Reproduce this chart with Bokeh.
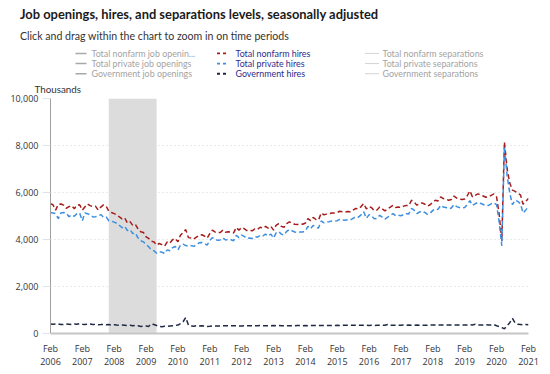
import pandas as pd
from bokeh.plotting import figure
from bokeh.models import (Range1d, FixedTicker, DatetimeTickFormatter,
                          NumeralTickFormatter, BoxAnnotation, Title)
from bokeh.layouts import column
from bokeh.core.properties import value
from bokeh.embed import file_html
from bokeh.resources import INLINE

FONT = "Open Sans"
HFONT = "Lato"

title_text = "Job openings, hires, and separations levels, seasonally adjusted"
subtitle_text = "Click and drag within the chart to zoom in on time periods"
y_unit_label = "Thousands"

openings_labels = ["Total nonfarm job openin...", "Total private job openings",
                   "Government job openings"]
hires_labels = ["Total nonfarm hires", "Total private hires", "Government hires"]
separations_labels = ["Total nonfarm separations", "Total private separations",
                      "Government separations"]

first_month = "2006-02-01"
tick_years = list(range(2006, 2022))
y_ticks = [0, 2000, 4000, 6000, 8000, 10000]
recession_start = "2007-12-01"
recession_end = "2009-06-01"

# monthly levels, thousands, Feb 2006 .. Feb 2021
nonfarm_hires = [
    5520, 5480, 5250, 5490, 5510, 5460, 5330, 5400, 5440, 5310, 5460,
    5480, 5250, 5380, 5510, 5440, 5400, 5420, 5250, 5380, 5470, 5420, 5200,
    5150, 5100, 5050, 4960, 4880, 4920, 4700, 4760, 4600, 4640, 4450, 4330,
    4300, 4110, 4050, 3930, 3900, 3760, 3830, 3780, 3720, 3900, 3850, 3990,
    4040, 3900, 4180, 4300, 4420, 4080, 4060, 4020, 4100, 4180, 4200, 4150,
    4060, 4250, 4400, 4320, 4290, 4300, 4400, 4310, 4330, 4320, 4280, 4510,
    4400, 4510, 4460, 4380, 4390, 4370, 4450, 4430, 4520, 4480, 4560, 4480,
    4560, 4400, 4600, 4680, 4560, 4520, 4680, 4750, 4700, 4650, 4640, 4660,
    4650, 4700, 4890, 4800, 4940, 4850, 4830, 5130, 5050, 5080, 5100, 5130,
    5130, 5150, 5200, 5180, 5170, 5190, 5180, 5250, 5320, 5300, 5400, 5530,
    5300, 5400, 5350, 5220, 5250, 5380, 5300, 5220, 5300, 5380, 5450, 5360,
    5380, 5360, 5420, 5450, 5450, 5670, 5600, 5460, 5520, 5560, 5500, 5420,
    5480, 5600, 5670, 5640, 5810, 5740, 5720, 5670, 5700, 5850, 5760, 5720,
    5700, 5720, 5850, 6070, 5810, 5880, 5940, 5900, 5850, 5800, 5810, 5880,
    5940, 5810, 5100, 3950, 8150, 7000, 6400, 6100, 6050, 5960, 5900, 5500,
    5620, 5750,
]
private_hires = [
    5150, 5130, 5100, 4890, 5130, 5150, 5120, 4970, 5050, 4990, 5100,
    5130, 4800, 5130, 5100, 5050, 4960, 4970, 5000, 5060, 4950, 4960, 4800,
    4780, 4740, 4690, 4600, 4500, 4560, 4380, 4420, 4250, 4280, 4060, 3950,
    3900, 3780, 3700, 3560, 3520, 3420, 3480, 3460, 3400, 3560, 3520, 3650,
    3700, 3560, 3760, 3800, 3740, 3720, 3740, 3710, 3770, 3860, 3870, 3830,
    3760, 3950, 4080, 4000, 3970, 3980, 4070, 3980, 4000, 3990, 3950, 4180,
    4080, 4190, 4130, 4050, 4060, 4040, 4120, 4100, 4180, 4150, 4230, 4150,
    4230, 4060, 4270, 4340, 4230, 4190, 4350, 4420, 4370, 4320, 4300, 4320,
    4320, 4360, 4560, 4460, 4600, 4510, 4490, 4790, 4710, 4740, 4760, 4790,
    4790, 4800, 4860, 4830, 4820, 4840, 4830, 4900, 4970, 4950, 5050, 5180,
    4900, 5060, 5000, 4880, 4900, 5030, 4950, 4870, 4950, 5030, 5100, 5010,
    5030, 5010, 5060, 5100, 5090, 5320, 5250, 5100, 5170, 5210, 5150, 5070,
    5120, 5240, 5310, 5280, 5450, 5380, 5360, 5310, 5340, 5490, 5400, 5360,
    5340, 5360, 5490, 5650, 5450, 5520, 5580, 5540, 5490, 5440, 5450, 5520,
    5560, 5480, 4770, 3730, 7950, 6700, 5980, 5480, 5670, 5620, 5520, 5130,
    5260, 5400,
]
government_hires = [
    400, 390, 400, 410, 380, 380, 400, 390, 380, 400, 390,
    420, 390, 380, 390, 400, 380, 390, 370, 380, 390, 370, 380,
    360, 370, 360, 350, 360, 350, 340, 350, 330, 340, 330, 300,
    310, 320, 300, 410, 380, 340, 300, 290, 310, 300, 320, 330,
    340, 360, 420, 500, 680, 360, 320, 310, 330, 320, 330, 320,
    300, 310, 320, 320, 320, 320, 330, 330, 330, 330, 330, 330,
    320, 320, 330, 330, 330, 330, 330, 330, 340, 330, 330, 330,
    330, 340, 330, 340, 330, 330, 330, 330, 330, 330, 340, 340,
    330, 340, 330, 340, 340, 340, 340, 340, 340, 340, 340, 340,
    340, 350, 340, 350, 350, 350, 350, 350, 350, 350, 350, 350,
    350, 340, 350, 340, 350, 350, 350, 350, 380, 350, 350, 350,
    350, 350, 360, 350, 360, 350, 350, 360, 350, 350, 350, 350,
    360, 360, 360, 360, 360, 360, 360, 360, 360, 360, 360, 360,
    360, 360, 360, 370, 360, 390, 360, 360, 360, 370, 360, 360,
    380, 330, 300, 250, 200, 330, 460, 640, 440, 390, 380, 370,
    380, 370,
]

months = pd.date_range(first_month, periods=len(nonfarm_hires), freq="MS")

RED = "#a61c1c"
BLUE = "#3f8fe0"
NAVY = "#1f2a44"
GREY_TXT = "#a3a3a3"
GREY_SYM = "#a8a8a8"
ACTIVE_TXT = "#2c2c8c"
DASH = "5 3"

W = 550
BORDER_L = 50
BORDER_R = 22

# ---------------- header: titles above, legend in the frame ----------------
HEAD_H = 80
HEAD_TOP = 40      # frame top (px from page top)
head = figure(width=W, height=HEAD_H,
              x_range=Range1d(BORDER_L, W - BORDER_R),
              y_range=Range1d(HEAD_H, HEAD_TOP),
              x_axis_location=None, y_axis_location=None,
              output_backend="svg", toolbar_location=None,
              min_border_left=BORDER_L, min_border_right=BORDER_R,
              min_border_top=HEAD_TOP, min_border_bottom=0,
              outline_line_color=None, title=None)
head.grid.visible = False

head.add_layout(Title(text=subtitle_text, align="left", offset=-30.5, standoff=4,
                      text_font=HFONT, text_font_size="10.6px",
                      text_font_style="normal", text_color="#333333"), "above")
head.add_layout(Title(text=title_text, align="left", offset=-30.5, standoff=7,
                      text_font=HFONT, text_font_size="12.9px",
                      text_font_style="bold", text_color="#1a1a1a"), "above")

rows = [50.7, 61.7, 72.7]
LEG_FS = "8.9px"
head.segment(x0=[75] * 3, x1=[86] * 3, y0=rows, y1=rows, line_color=GREY_SYM,
             line_width=1.5)
head.text(x=[91] * 3, y=rows, text=openings_labels, text_font=value(HFONT),
          text_font_size=LEG_FS, text_color=GREY_TXT, text_baseline="middle",
          text_align="left")
head.segment(x0=[216.5] * 3, x1=[226] * 3, y0=rows, y1=rows,
             line_color=[RED, BLUE, NAVY], line_width=1.8, line_dash="3 3")
head.text(x=[235] * 3, y=rows, text=hires_labels, text_font=value(HFONT),
          text_font_size=LEG_FS, text_color=ACTIVE_TXT, text_baseline="middle",
          text_align="left")
head.segment(x0=[365] * 3, x1=[379] * 3, y0=rows, y1=rows, line_color=GREY_SYM,
             line_width=1, line_dash="1 1")
head.text(x=[382] * 3, y=rows, text=separations_labels, text_font=value(HFONT),
          text_font_size=LEG_FS, text_color=GREY_TXT, text_baseline="middle",
          text_align="left")

# ---------------- main chart ----------------
p = figure(width=W, height=374 - HEAD_H, x_axis_type="datetime",
           x_range=Range1d(months[0], months[-1]), y_range=Range1d(0, 10000),
           output_backend="svg", toolbar_location=None, title=None,
           min_border_left=BORDER_L, min_border_right=BORDER_R, min_border_top=18,
           min_border_bottom=41, outline_line_color=None)

p.add_layout(Title(text=y_unit_label, align="left", offset=-16, standoff=4,
                   vertical_align="top",
                   text_font=HFONT, text_font_size="9.8px",
                   text_font_style="normal", text_color="#333333"), "above")

p.add_layout(BoxAnnotation(left=pd.Timestamp(recession_start),
                           right=pd.Timestamp(recession_end),
                           fill_color="#dcdcdc", fill_alpha=1.0,
                           line_color=None, level="underlay"))

p.line(months, nonfarm_hires, line_color=RED, line_width=1.5, line_dash=DASH)
p.line(months, private_hires, line_color=BLUE, line_width=1.5, line_dash=DASH)
p.line(months, government_hires, line_color=NAVY, line_width=1.5, line_dash=DASH)

fmt = "%b\n%Y"
p.xaxis.ticker = FixedTicker(ticks=[pd.Timestamp(f"{y}-02-01").value // 10**6
                                    for y in tick_years])
p.xaxis.formatter = DatetimeTickFormatter(
    milliseconds=fmt, seconds=fmt, minsec=fmt, minutes=fmt, hourmin=fmt,
    hours=fmt, days=fmt, months=fmt, years=fmt)
p.xaxis.axis_line_color = "#c6c6c6"
p.xaxis.axis_line_width = 2
p.xaxis.major_tick_line_color = None
p.xaxis.minor_tick_line_color = None
p.xaxis.major_label_standoff = 2
p.xaxis.major_label_text_line_height = 1.0
p.xaxis.major_label_text_font = FONT
p.xaxis.major_label_text_font_size = "9px"
p.xaxis.major_label_text_color = "#333333"

p.yaxis.ticker = FixedTicker(ticks=y_ticks)
p.yaxis.formatter = NumeralTickFormatter(format="0,0")
p.yaxis.axis_line_color = "#a0a0a0"
p.yaxis.major_tick_line_color = "#dfe4ec"
p.yaxis.major_tick_out = 8
p.yaxis.major_tick_in = 0
p.yaxis.minor_tick_line_color = None
p.yaxis.major_label_standoff = 4
p.yaxis.major_label_text_font = FONT
p.yaxis.major_label_text_font_size = "9px"
p.yaxis.major_label_text_color = "#333333"

p.xgrid.grid_line_color = None
p.ygrid.grid_line_color = "#d4d4d4"
p.ygrid.grid_line_dash = "1 3"

layout = column(head, p, spacing=0)
open("out.html", "w").write(file_html(layout, INLINE))
